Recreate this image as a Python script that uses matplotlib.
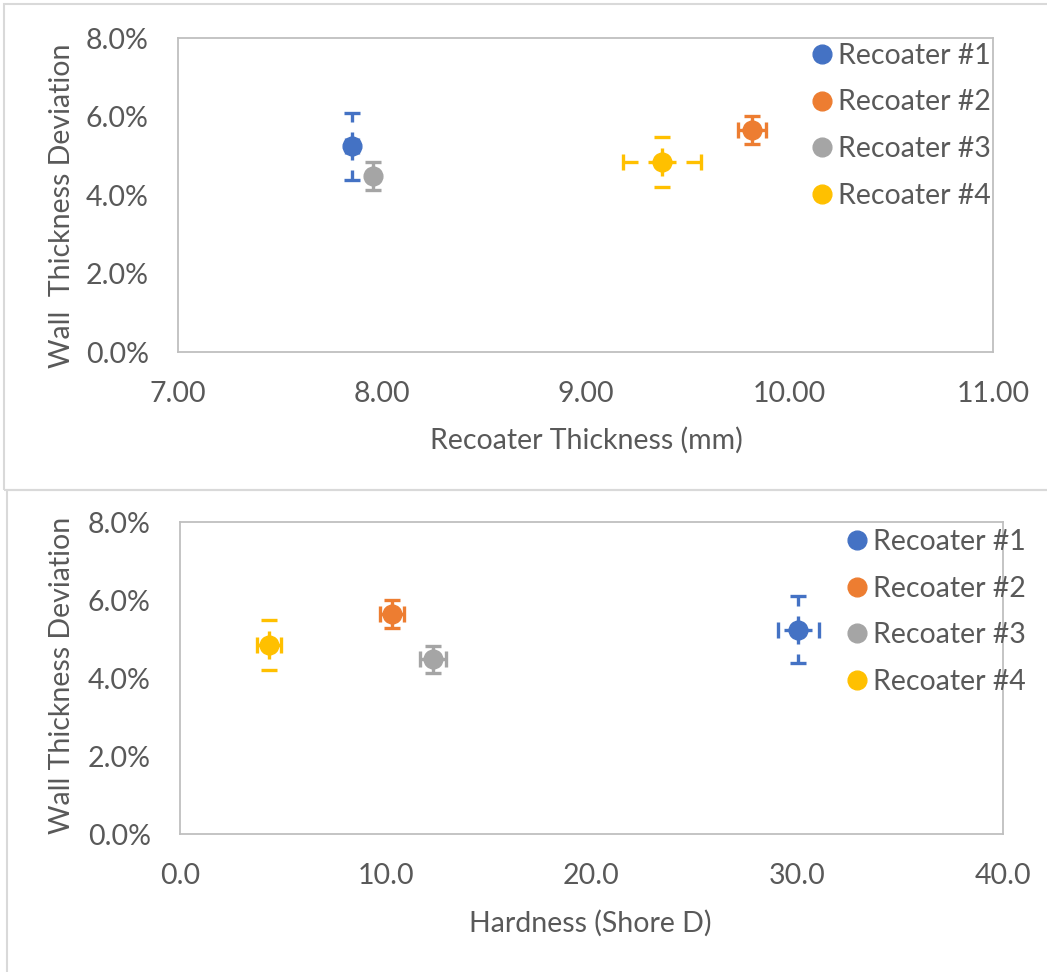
import matplotlib
matplotlib.use("Agg")
import matplotlib.pyplot as plt
from matplotlib.lines import Line2D
from matplotlib.patches import Rectangle
from matplotlib.ticker import FuncFormatter, MultipleLocator

plt.rcParams['font.family'] = ['Lato', 'DejaVu Sans']

labels = ["Recoater #1", "Recoater #2", "Recoater #3", "Recoater #4"]
colors = ["#4472C4", "#ED7D31", "#A5A5A5", "#FFC000"]

# wall thickness deviation (%), shared by both charts
wtd = [5.24, 5.65, 4.48, 4.84]
wtd_err = [0.86, 0.36, 0.35, 0.64]

# top chart: recoater thickness (mm)
thick = [7.855, 9.817, 7.957, 9.375]
thick_err = [0.03, 0.07, 0.02, 0.19]

# bottom chart: hardness (Shore D)
hard = [30.05, 10.3, 12.3, 4.33]
hard_err = [1.0, 0.6, 0.63, 0.6]

W, H = 1047, 972
fig = plt.figure(figsize=(W / 100, H / 100), dpi=100)
TXT = "#595959"
FS = 20.5

# chart area borders
fig.add_artist(Rectangle((4 / W, 1 - 490 / H), (W + 10) / W, 486 / H, transform=fig.transFigure,
                         fill=False, edgecolor="#D9D9D9", lw=1.5))
fig.add_artist(Rectangle((7 / W, -10 / H), (W + 10) / W, (482 + 10) / H, transform=fig.transFigure,
                         fill=False, edgecolor="#D9D9D9", lw=1.5))


def dashed_err(ax, x, y, xe, ye, c):
    lw = 2.4
    ls = (0, (4.2, 3.0))
    for sgn in (1, -1):
        ax.plot([x, x], [y, y + sgn * ye], color=c, lw=lw, ls=ls, solid_capstyle='butt',
                dash_capstyle='butt', zorder=2)
        ax.plot([x, x + sgn * xe], [y, y], color=c, lw=lw, ls=ls, solid_capstyle='butt',
                dash_capstyle='butt', zorder=2)
    ax.errorbar([x], [y], xerr=[xe], yerr=[ye], fmt='none', ecolor=c, elinewidth=0,
                capsize=6, capthick=2.4, zorder=2)


def make(ax_rect, xs, xerrs, xlim, xstep, xfmt, xlabel, xlab_pos, ylabel, ylab_pos, leg_pos):
    ax = fig.add_axes(ax_rect)
    for x, xe, y, ye, c in zip(xs, xerrs, wtd, wtd_err, colors):
        dashed_err(ax, x, y, xe, ye, c)
        ax.plot([x], [y], 'o', color=c, ms=13.5, zorder=3)
    ax.set_xlim(*xlim)
    ax.set_ylim(0, 8)
    ax.xaxis.set_major_locator(MultipleLocator(xstep))
    ax.yaxis.set_major_locator(MultipleLocator(2))
    ax.xaxis.set_major_formatter(FuncFormatter(lambda v, p: xfmt.format(v)))
    ax.yaxis.set_major_formatter(FuncFormatter(lambda v, p: f"{v:.1f}%"))
    ax.tick_params(length=0, labelsize=FS, labelcolor=TXT)
    ax.tick_params(axis='y', pad=21)
    ax.tick_params(axis='x', pad=21)
    for s in ax.spines.values():
        s.set_color("#BFBFBF")
        s.set_linewidth(1.3)
    fig.text(xlab_pos[0] / W, 1 - xlab_pos[1] / H, xlabel, ha='center', va='center',
             fontsize=FS, color=TXT)
    fig.text(ylab_pos[0] / W, 1 - ylab_pos[1] / H, ylabel, ha='center', va='center',
             fontsize=FS, color=TXT, rotation=90)
    handles = [Line2D([], [], marker='o', ls='none', color=c, ms=13.5) for c in colors]
    fig.legend(handles, labels, loc='upper left',
               bbox_to_anchor=(leg_pos[0] / W, 1 - leg_pos[1] / H), frameon=False,
               fontsize=FS, labelcolor=TXT, handlelength=0.7, handletextpad=0.21,
               labelspacing=0.72, borderpad=0, borderaxespad=0)
    return ax


make([178 / W, 1 - 352 / H, 815 / W, 314 / H], thick, thick_err, (7, 11), 1, "{:.2f}",
     "Recoater Thickness (mm)", (586, 440), "Wall  Thickness Deviation", (62, 206), (812, 43))
make([180 / W, 1 - 834 / H, 823 / W, 312 / H], hard, hard_err, (0, 40), 10, "{:.1f}",
     "Hardness (Shore D)", (590, 923), "Wall Thickness Deviation", (62, 675), (847, 529))

fig.savefig("out.png", dpi=100)
